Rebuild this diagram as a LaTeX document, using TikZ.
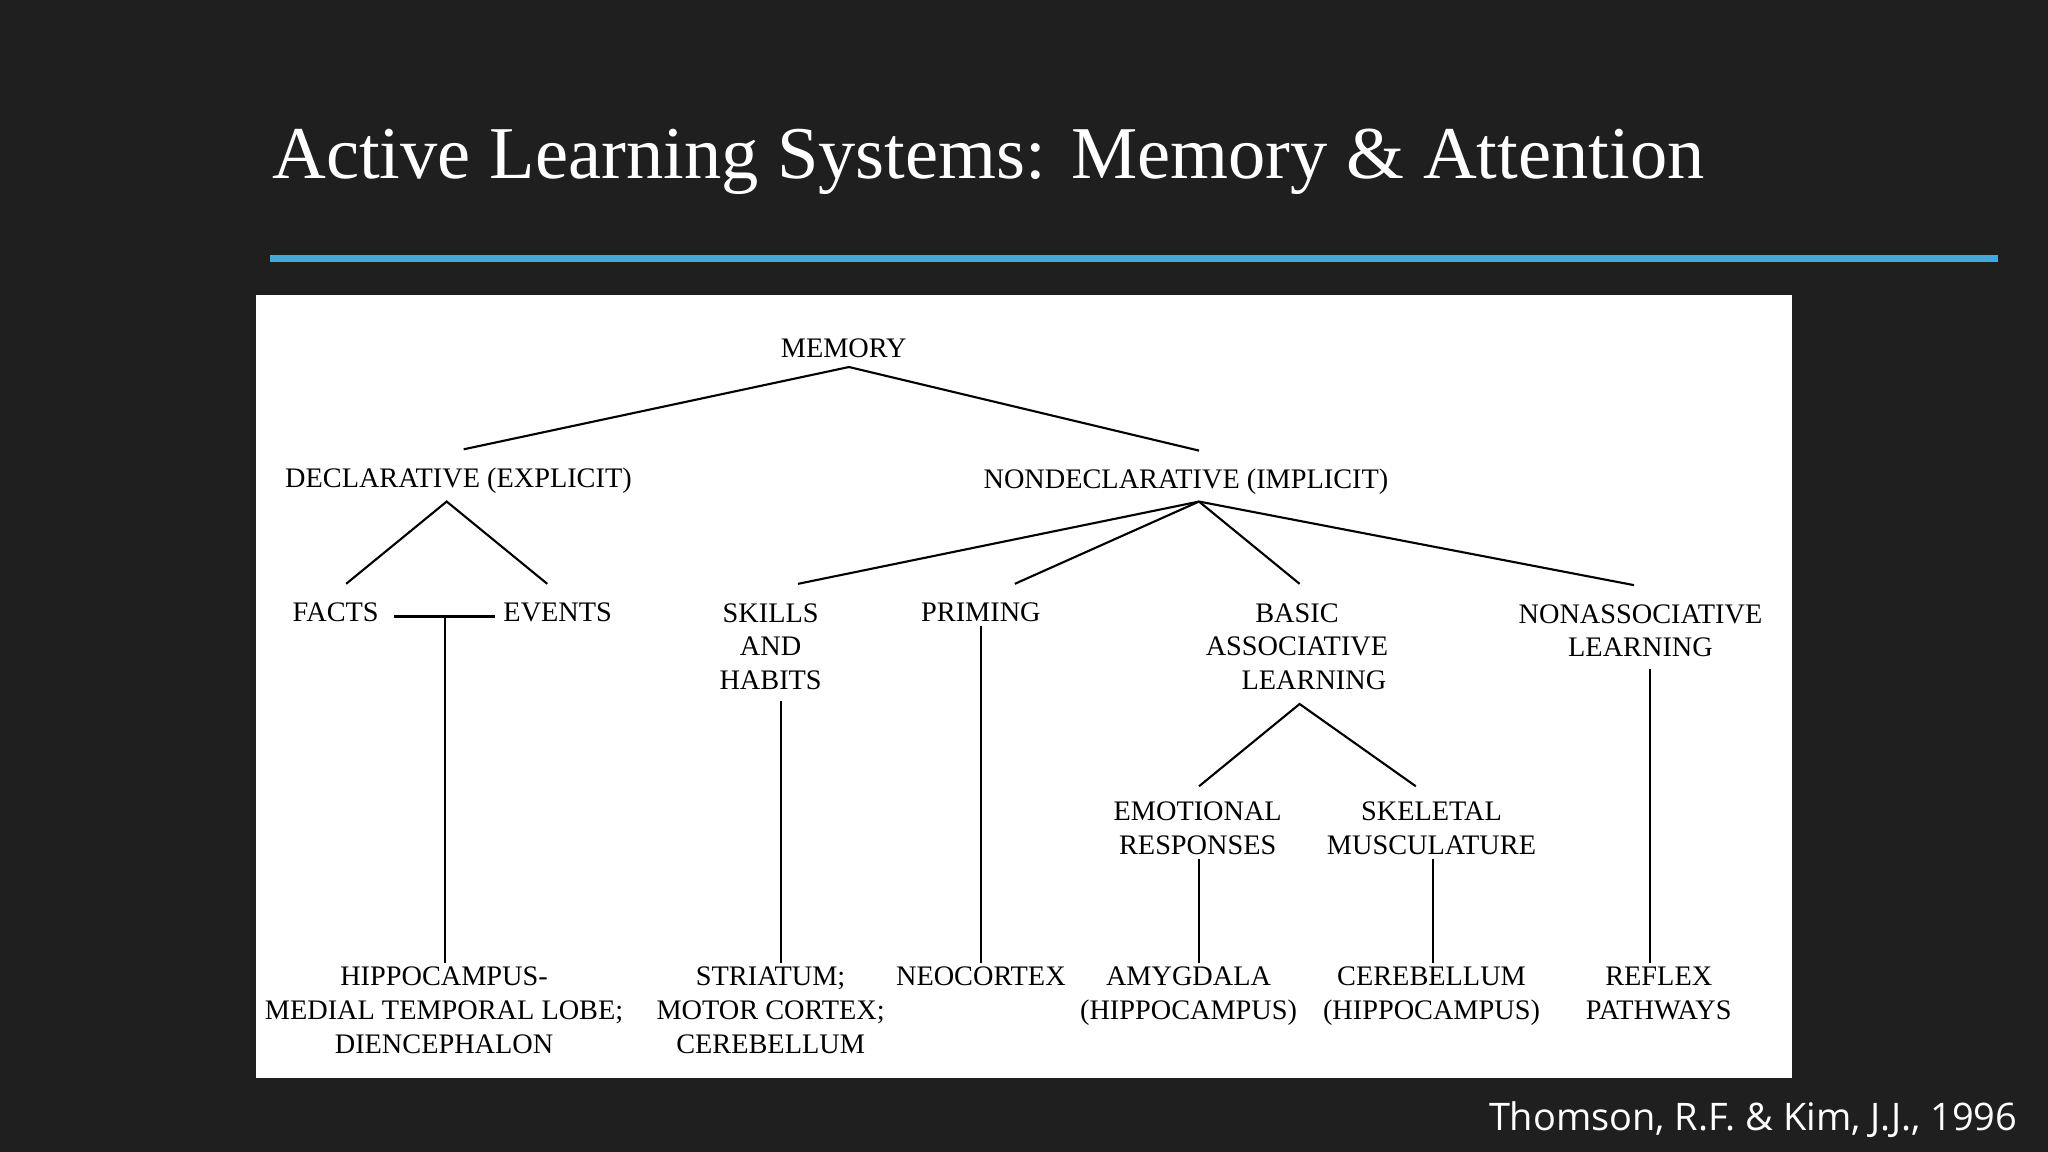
\documentclass[tikz,border=0pt]{standalone}
\usepackage{fontspec}
\setmainfont{Liberation Serif}
\newfontfamily\citefont{Open Sans}
\begin{document}
\begin{tikzpicture}[x={(0.01306cm,0)},y={(0,-0.01306cm)},
  lbl/.style={font=\fontsize{8.05}{9.6}\selectfont,align=center,inner sep=1pt,text=black},
  ln/.style={line width=0.6pt,black}]
\useasboundingbox (0,0) rectangle (1568,882);
\fill[black!88] (0,0) rectangle (1568,882);
\fill[white] (196,226) rectangle (1372,825);
\node[text=white,font=\fontsize{21.2}{24}\selectfont,anchor=west,inner sep=0pt] (title) at (208,124) {Active Learning Systems: Memory \& Attention};
\draw[line width=2.2pt,color={rgb,255:red,64;green,170;blue,222}] (207,198) -- (1530,198);
\node[text=white,font=\citefont\fontsize{10.8}{13}\selectfont,anchor=east,inner sep=0pt] (cite) at (1545,857) {Thomson, R.F. \& Kim, J.J., 1996};

\node[lbl] (mem) at (646,267) {MEMORY};
\node[lbl] (decl) at (351,368) {DECLARATIVE (EXPLICIT)};
\node[lbl] (nond) at (908,369) {NONDECLARATIVE (IMPLICIT)};
\node[lbl] (facts) at (257,469) {FACTS};
\node[lbl] (events) at (427,469) {EVENTS};
\node[lbl] (skills) at (590,495) {SKILLS\\AND\\HABITS};
\node[lbl] (prim) at (751,469) {PRIMING};
\node[lbl] (basic) at (993,495) {BASIC\\ASSOCIATIVE\\\hspace*{1.2em}LEARNING};
\node[lbl] (nonas) at (1256,483) {NONASSOCIATIVE\\LEARNING};
\node[lbl] (emo) at (917,634) {EMOTIONAL\\RESPONSES};
\node[lbl] (skel) at (1096,634) {SKELETAL\\MUSCULATURE};
\node[lbl,anchor=north] (hip) at (340,737) {HIPPOCAMPUS-\\MEDIAL TEMPORAL LOBE;\\DIENCEPHALON};
\node[lbl,anchor=north] (str) at (590,737) {STRIATUM;\\MOTOR CORTEX;\\CEREBELLUM};
\node[lbl,anchor=north] (neo) at (751,737) {NEOCORTEX};
\node[lbl,anchor=north] (amy) at (910,737) {AMYGDALA\\(HIPPOCAMPUS)};
\node[lbl,anchor=north] (cer) at (1096,737) {CEREBELLUM\\(HIPPOCAMPUS)};
\node[lbl,anchor=north] (refl) at (1270,737) {REFLEX\\PATHWAYS};

\coordinate (m0) at (650,281);
\coordinate (d0) at (355,344); \coordinate (n0) at (918,345);
\coordinate (d1) at (342,384); \coordinate (f0) at (265,447); \coordinate (e0) at (419,447);
\coordinate (fl) at (302,472); \coordinate (fr) at (379,472); \coordinate (fm) at (341,472);
\coordinate (n1) at (918,384);
\coordinate (s0) at (611,447); \coordinate (p0) at (777,447); \coordinate (b0) at (995,447); \coordinate (na0) at (1251,448);
\coordinate (b1) at (995,539); \coordinate (em0) at (918,602); \coordinate (sk0) at (1084,602);

\draw[ln] (d0) -- (m0) -- (n0);
\draw[ln] (f0) -- (d1) -- (e0);
\draw[ln] (fl) -- (fr);
\draw[ln] (fm) -- (hip.north -| fm);
\draw[ln] (s0) -- (n1); \draw[ln] (p0) -- (n1); \draw[ln] (b0) -- (n1); \draw[ln] (na0) -- (n1);
\draw[ln] (598,537) -- (str.north -| 598,0);
\draw[ln] (prim.south) -- (neo.north);
\draw[ln] (em0) -- (b1) -- (sk0);
\draw[ln] (emo.south -| 918,0) -- (amy.north -| 918,0);
\draw[ln] (skel.south -| 1097,0) -- (cer.north -| 1097,0);
\draw[ln] (1263,512) -- (refl.north -| 1263,0);
\end{tikzpicture}
\end{document}
